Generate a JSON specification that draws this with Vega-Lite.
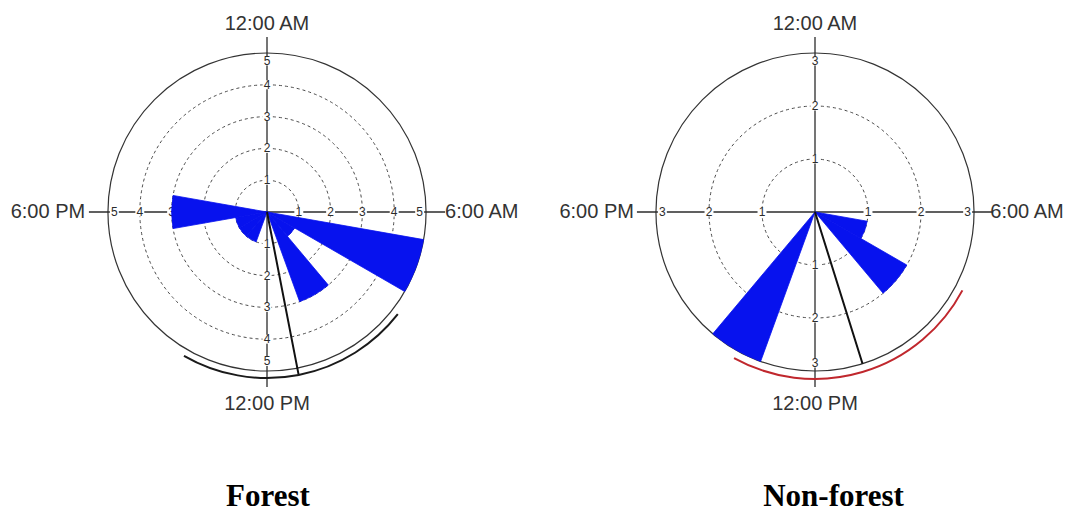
{
  "$schema": "https://vega.github.io/schema/vega-lite/v6.json",
  "background": "white",
  "padding": {"left": 7, "right": 0, "top": 0, "bottom": 0},
  "spacing": 28,
  "config": {
    "view": {"stroke": null},
    "axis": {"disable": true},
    "text": {"font": "Liberation Sans"}
  },
  "datasets": {
    "forest_bins": [
      {"start": 100, "end": 120, "count": 5},
      {"start": 120, "end": 140, "count": 1},
      {"start": 140, "end": 160, "count": 3},
      {"start": 200, "end": 220, "count": 1},
      {"start": 220, "end": 240, "count": 1},
      {"start": 240, "end": 260, "count": 1},
      {"start": 260, "end": 280, "count": 3}
    ],
    "forest_rings": [{"r": 1}, {"r": 2}, {"r": 3}, {"r": 4}],
    "forest_outer": [{"r": 5}],
    "forest_axes": [
      {"x1": -5.6, "x2": 5.6, "y1": 0, "y2": 0},
      {"x1": 0, "x2": 0, "y1": -5.5, "y2": 5.5}
    ],
    "forest_ticks": [
      {"x": 1, "y": 0, "t": "1"}, {"x": 2, "y": 0, "t": "2"}, {"x": 3, "y": 0, "t": "3"}, {"x": 4, "y": 0, "t": "4"}, {"x": 4.8, "y": 0, "t": "5"},
      {"x": -1, "y": 0, "t": "1"}, {"x": -2, "y": 0, "t": "2"}, {"x": -3, "y": 0, "t": "3"}, {"x": -4, "y": 0, "t": "4"}, {"x": -4.8, "y": 0, "t": "5"},
      {"x": 0, "y": 1, "t": "1"}, {"x": 0, "y": 2, "t": "2"}, {"x": 0, "y": 3, "t": "3"}, {"x": 0, "y": 4, "t": "4"}, {"x": 0, "y": 4.75, "t": "5"},
      {"x": 0, "y": -1, "t": "1"}, {"x": 0, "y": -2, "t": "2"}, {"x": 0, "y": -3, "t": "3"}, {"x": 0, "y": -4, "t": "4"}, {"x": 0, "y": -4.7, "t": "5"}
    ],
    "forest_stats": [{"mean": 169, "len": 5.2, "lo": 128, "hi": 210, "ci": 5.22}],
    "forest_clock": [
      {"label": "12:00 AM", "x": 0, "y": 5.73},
      {"label": "6:00 AM", "x": 6.755, "y": -0.19},
      {"label": "12:00 PM", "x": 0, "y": -6.217},
      {"label": "6:00 PM", "x": -6.89, "y": -0.19}
    ],
    "forest_title": [{"name": "Forest", "x": 0.03, "y": -9.26}],

    "nonforest_bins": [
      {"start": 100, "end": 120, "count": 1},
      {"start": 120, "end": 140, "count": 2},
      {"start": 200, "end": 220, "count": 3}
    ],
    "nonforest_rings": [{"r": 1}, {"r": 2}],
    "nonforest_outer": [{"r": 3}],
    "nonforest_axes": [
      {"x1": -3.36, "x2": 3.36, "y1": 0, "y2": 0},
      {"x1": 0, "x2": 0, "y1": -3.3, "y2": 3.3}
    ],
    "nonforest_ticks": [
      {"x": 1, "y": 0, "t": "1"}, {"x": 2, "y": 0, "t": "2"}, {"x": 2.88, "y": 0, "t": "3"},
      {"x": -1, "y": 0, "t": "1"}, {"x": -2, "y": 0, "t": "2"}, {"x": -2.88, "y": 0, "t": "3"},
      {"x": 0, "y": 1, "t": "1"}, {"x": 0, "y": 2, "t": "2"}, {"x": 0, "y": 2.85, "t": "3"},
      {"x": 0, "y": -1, "t": "1"}, {"x": 0, "y": -2, "t": "2"}, {"x": 0, "y": -2.85, "t": "3"}
    ],
    "nonforest_stats": [{"mean": 162.6, "len": 3.0, "lo": 118, "hi": 209, "ci": 3.15}],
    "nonforest_clock": [
      {"label": "12:00 AM", "x": 0, "y": 3.44},
      {"label": "6:00 AM", "x": 4.0, "y": -0.113},
      {"label": "12:00 PM", "x": 0, "y": -3.73},
      {"label": "6:00 PM", "x": -4.12, "y": -0.113}
    ],
    "nonforest_title": [{"name": "Non-forest", "x": 0.35, "y": -5.555}]
  },
  "hconcat": [
    {
      "width": 520,
      "height": 512,
      "layer": [
        {
          "data": {"name": "forest_rings"},
          "mark": {"type": "arc", "filled": false, "color": "#4a4a4a", "strokeWidth": 1, "strokeDash": [3, 3], "theta": 0, "theta2": 6.2832},
          "encoding": {
            "x": {"datum": 0, "type": "quantitative", "scale": {"domain": [-8.176, 8.176], "nice": false, "zero": false}, "axis": null},
            "y": {"datum": 0, "type": "quantitative", "scale": {"domain": [-9.434, 6.667], "nice": false, "zero": false}, "axis": null},
            "radius": {"field": "r", "type": "quantitative", "stack": null, "scale": {"type": "linear", "domain": [0, 5], "range": [0, 159], "zero": true, "nice": false}}
          }
        },
        {
          "data": {"name": "forest_outer"},
          "mark": {"type": "arc", "filled": false, "color": "#333333", "strokeWidth": 1.2, "theta": 0, "theta2": 6.2832},
          "encoding": {
            "x": {"datum": 0, "type": "quantitative"},
            "y": {"datum": 0, "type": "quantitative"},
            "radius": {"field": "r", "type": "quantitative", "stack": null}
          }
        },
        {
          "data": {"name": "forest_axes"},
          "mark": {"type": "rule", "color": "#2b2b2b", "strokeWidth": 1.3},
          "encoding": {
            "x": {"field": "x1", "type": "quantitative"},
            "x2": {"field": "x2"},
            "y": {"field": "y1", "type": "quantitative"},
            "y2": {"field": "y2"}
          }
        },
        {
          "data": {"name": "forest_ticks"},
          "mark": {"type": "point", "shape": "square", "filled": true, "color": "white", "opacity": 1, "size": 80, "strokeWidth": 0},
          "encoding": {
            "x": {"field": "x", "type": "quantitative"},
            "y": {"field": "y", "type": "quantitative"}
          }
        },
        {
          "data": {"name": "forest_ticks"},
          "mark": {"type": "text", "fontSize": 12, "color": "#2b2b2b", "baseline": "middle", "align": "center"},
          "encoding": {
            "x": {"field": "x", "type": "quantitative"},
            "y": {"field": "y", "type": "quantitative"},
            "text": {"field": "t"}
          }
        },
        {
          "data": {"name": "forest_bins"},
          "mark": {"type": "arc", "color": "#0712ee", "stroke": "#0712ee", "strokeWidth": 0.8, "strokeJoin": "miter"},
          "encoding": {
            "x": {"datum": 0, "type": "quantitative"},
            "y": {"datum": 0, "type": "quantitative"},
            "theta": {"field": "start", "type": "quantitative", "stack": null, "scale": {"type": "linear", "domain": [0, 360], "range": [0, 6.283185307], "zero": true, "nice": false}},
            "theta2": {"field": "end"},
            "radius": {"field": "count", "type": "quantitative", "stack": null}
          }
        },
        {
          "data": {"name": "forest_stats"},
          "mark": {"type": "arc", "filled": false, "color": "#111111", "strokeWidth": 2},
          "encoding": {
            "x": {"datum": 0, "type": "quantitative"},
            "y": {"datum": 0, "type": "quantitative"},
            "theta": {"field": "mean", "type": "quantitative", "stack": null},
            "theta2": {"field": "mean"},
            "radius": {"field": "len", "type": "quantitative", "stack": null}
          }
        },
        {
          "data": {"name": "forest_stats"},
          "mark": {"type": "arc", "filled": false, "color": "#1a1a1a", "strokeWidth": 2},
          "encoding": {
            "x": {"datum": 0, "type": "quantitative"},
            "y": {"datum": 0, "type": "quantitative"},
            "theta": {"field": "lo", "type": "quantitative", "stack": null},
            "theta2": {"field": "hi"},
            "radius": {"field": "ci", "type": "quantitative", "stack": null},
            "radius2": {"field": "ci"}
          }
        },
        {
          "data": {"name": "forest_clock"},
          "mark": {"type": "text", "fontSize": 20, "color": "#333333", "baseline": "alphabetic", "align": "center"},
          "encoding": {
            "x": {"field": "x", "type": "quantitative"},
            "y": {"field": "y", "type": "quantitative"},
            "text": {"field": "label"}
          }
        },
        {
          "data": {"name": "forest_title"},
          "mark": {"type": "text", "font": "Liberation Serif", "fontWeight": "bold", "fontSize": 31, "color": "black", "baseline": "alphabetic", "align": "center"},
          "encoding": {
            "x": {"field": "x", "type": "quantitative"},
            "y": {"field": "y", "type": "quantitative"},
            "text": {"field": "name"}
          }
        }
      ]
    },
    {
      "width": 520,
      "height": 512,
      "layer": [
        {
          "data": {"name": "nonforest_rings"},
          "mark": {"type": "arc", "filled": false, "color": "#4a4a4a", "strokeWidth": 1, "strokeDash": [3, 3], "theta": 0, "theta2": 6.2832},
          "encoding": {
            "x": {"datum": 0, "type": "quantitative", "scale": {"domain": [-4.906, 4.906], "nice": false, "zero": false}, "axis": null},
            "y": {"datum": 0, "type": "quantitative", "scale": {"domain": [-5.66, 4.0], "nice": false, "zero": false}, "axis": null},
            "radius": {"field": "r", "type": "quantitative", "stack": null, "scale": {"type": "linear", "domain": [0, 3], "range": [0, 159], "zero": true, "nice": false}}
          }
        },
        {
          "data": {"name": "nonforest_outer"},
          "mark": {"type": "arc", "filled": false, "color": "#333333", "strokeWidth": 1.2, "theta": 0, "theta2": 6.2832},
          "encoding": {
            "x": {"datum": 0, "type": "quantitative"},
            "y": {"datum": 0, "type": "quantitative"},
            "radius": {"field": "r", "type": "quantitative", "stack": null}
          }
        },
        {
          "data": {"name": "nonforest_axes"},
          "mark": {"type": "rule", "color": "#2b2b2b", "strokeWidth": 1.3},
          "encoding": {
            "x": {"field": "x1", "type": "quantitative"},
            "x2": {"field": "x2"},
            "y": {"field": "y1", "type": "quantitative"},
            "y2": {"field": "y2"}
          }
        },
        {
          "data": {"name": "nonforest_ticks"},
          "mark": {"type": "point", "shape": "square", "filled": true, "color": "white", "opacity": 1, "size": 80, "strokeWidth": 0},
          "encoding": {
            "x": {"field": "x", "type": "quantitative"},
            "y": {"field": "y", "type": "quantitative"}
          }
        },
        {
          "data": {"name": "nonforest_ticks"},
          "mark": {"type": "text", "fontSize": 12, "color": "#2b2b2b", "baseline": "middle", "align": "center"},
          "encoding": {
            "x": {"field": "x", "type": "quantitative"},
            "y": {"field": "y", "type": "quantitative"},
            "text": {"field": "t"}
          }
        },
        {
          "data": {"name": "nonforest_bins"},
          "mark": {"type": "arc", "color": "#0712ee", "stroke": "#0712ee", "strokeWidth": 0.8, "strokeJoin": "miter"},
          "encoding": {
            "x": {"datum": 0, "type": "quantitative"},
            "y": {"datum": 0, "type": "quantitative"},
            "theta": {"field": "start", "type": "quantitative", "stack": null, "scale": {"type": "linear", "domain": [0, 360], "range": [0, 6.283185307], "zero": true, "nice": false}},
            "theta2": {"field": "end"},
            "radius": {"field": "count", "type": "quantitative", "stack": null}
          }
        },
        {
          "data": {"name": "nonforest_stats"},
          "mark": {"type": "arc", "filled": false, "color": "#111111", "strokeWidth": 2},
          "encoding": {
            "x": {"datum": 0, "type": "quantitative"},
            "y": {"datum": 0, "type": "quantitative"},
            "theta": {"field": "mean", "type": "quantitative", "stack": null},
            "theta2": {"field": "mean"},
            "radius": {"field": "len", "type": "quantitative", "stack": null}
          }
        },
        {
          "data": {"name": "nonforest_stats"},
          "mark": {"type": "arc", "filled": false, "color": "#c0272d", "strokeWidth": 2},
          "encoding": {
            "x": {"datum": 0, "type": "quantitative"},
            "y": {"datum": 0, "type": "quantitative"},
            "theta": {"field": "lo", "type": "quantitative", "stack": null},
            "theta2": {"field": "hi"},
            "radius": {"field": "ci", "type": "quantitative", "stack": null},
            "radius2": {"field": "ci"}
          }
        },
        {
          "data": {"name": "nonforest_clock"},
          "mark": {"type": "text", "fontSize": 20, "color": "#333333", "baseline": "alphabetic", "align": "center"},
          "encoding": {
            "x": {"field": "x", "type": "quantitative"},
            "y": {"field": "y", "type": "quantitative"},
            "text": {"field": "label"}
          }
        },
        {
          "data": {"name": "nonforest_title"},
          "mark": {"type": "text", "font": "Liberation Serif", "fontWeight": "bold", "fontSize": 31, "color": "black", "baseline": "alphabetic", "align": "center"},
          "encoding": {
            "x": {"field": "x", "type": "quantitative"},
            "y": {"field": "y", "type": "quantitative"},
            "text": {"field": "name"}
          }
        }
      ]
    }
  ]
}
